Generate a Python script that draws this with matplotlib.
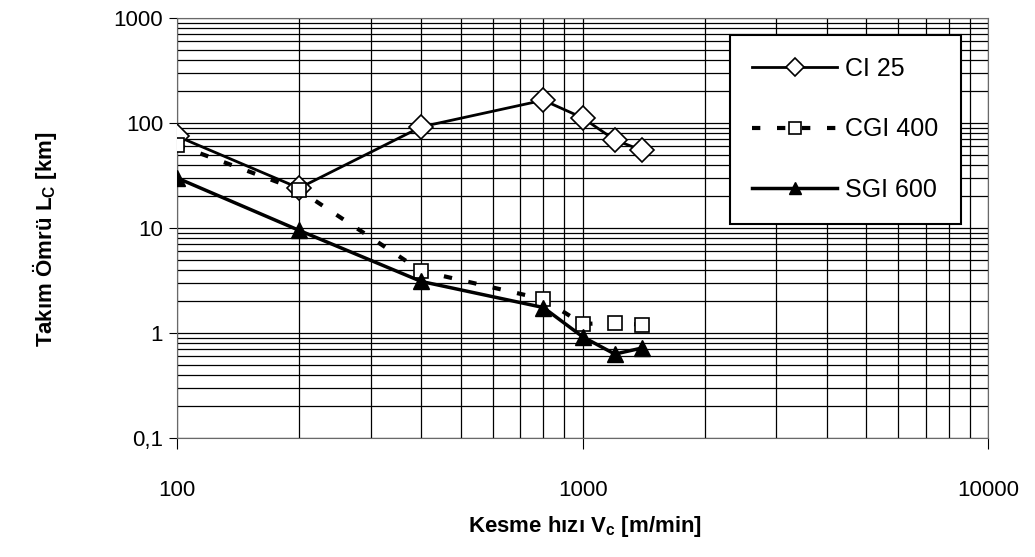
import numpy as np
import matplotlib
matplotlib.use("Agg")
import matplotlib.pyplot as plt
import matplotlib.ticker as ticker

plt.rcParams['font.family'] = ['Liberation Sans', 'DejaVu Sans']

speed = np.array([100, 200, 400, 800, 1000, 1200, 1400])
life_ci25 = np.array([75, 24, 92, 165, 112, 69, 55])
life_cgi400 = np.array([62, 23, 3.9, 2.1, 1.22, 1.25, 1.2])
life_sgi600 = np.array([30, 9.5, 3.1, 1.75, 0.92, 0.63, 0.72])

ytick_vals = [0.1, 1, 10, 100, 1000]
ytick_labels = ["0,1", "1", "10", "100", "1000"]
xtick_vals = [100, 1000, 10000]
xtick_labels = ["100", "1000", "10000"]

fig = plt.figure(figsize=(10.35, 5.57), dpi=100)
ax = fig.add_axes([0.171, 0.2136, 0.784, 0.754])
ax.set_xscale('log')
ax.set_yscale('log')
ax.set_xlim(100, 10000)
ax.set_ylim(0.1, 1000)

ax.grid(True, which='both', color='black', lw=0.9)
ax.set_axisbelow(True)

ax.plot(speed, life_ci25, color='black', lw=2, marker='D', ms=12,
        mfc='white', mec='black', mew=1.2, label="CI 25", zorder=3)
ax.plot(speed, life_cgi400, color='black', lw=3, ls=(0, (2, 4)), marker='s', ms=10,
        mfc='white', mec='black', mew=1.2, label="CGI 400", zorder=4)
ax.plot(speed, life_sgi600, color='black', lw=2.5, marker='^', ms=11,
        mfc='black', mec='black', label="SGI 600", zorder=5)

ax.xaxis.set_major_locator(ticker.FixedLocator(xtick_vals))
ax.xaxis.set_major_formatter(ticker.FixedFormatter(xtick_labels))
ax.yaxis.set_major_locator(ticker.FixedLocator(ytick_vals))
ax.yaxis.set_major_formatter(ticker.FixedFormatter(ytick_labels))
ax.tick_params(axis='x', which='major', length=8, pad=22, labelsize=16)
ax.tick_params(axis='y', which='major', length=6, pad=4, labelsize=16)
ax.tick_params(which='minor', length=0)
for s in ax.spines.values():
    s.set_color('dimgray')

fig.text(0.565, 0.055, "Kesme hızı V$_\\mathregular{c}$ [m/min]", fontsize=16,
         fontweight='bold', ha='center', va='center')
fig.text(0.043, 0.57, "Takım Ömrü L$_\\mathregular{C}$ [km]", fontsize=16,
         fontweight='bold', ha='center', va='center', rotation=90)

leg = ax.legend(loc='upper right', fontsize=18, frameon=True, fancybox=False,
                edgecolor='black', framealpha=1, labelspacing=1.45, handlelength=3.4,
                handletextpad=0.3, borderpad=0.9, markerscale=0.8,
                bbox_to_anchor=(0.981, 0.99))
leg.get_frame().set_linewidth(1.5)

fig.savefig("out.png", dpi=100)
